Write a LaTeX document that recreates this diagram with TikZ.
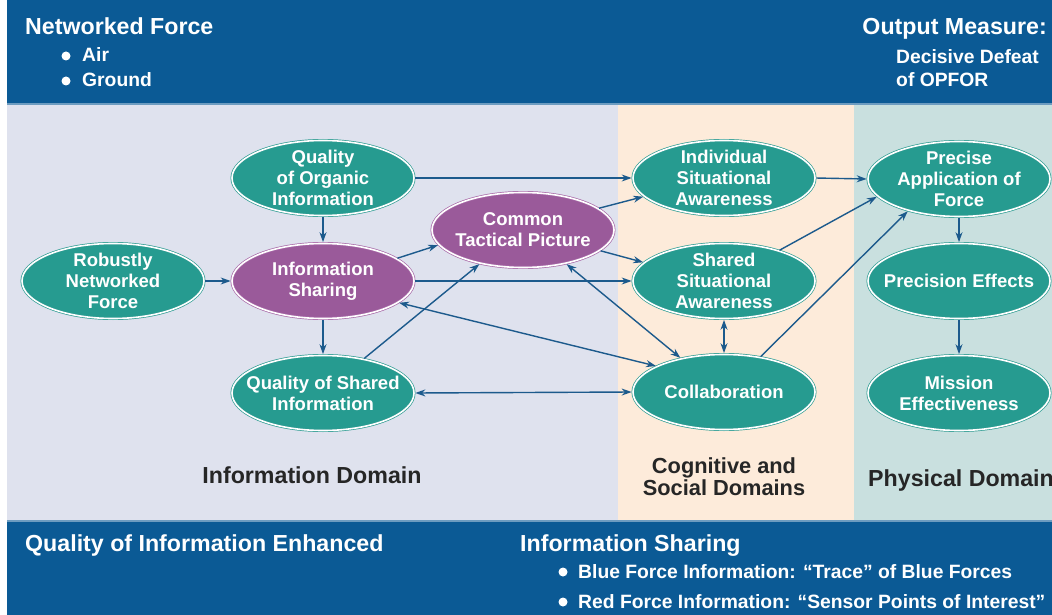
\documentclass[tikz,border=0pt]{standalone}
\usepackage{fontspec}
\setmainfont{Liberation Sans}
\usetikzlibrary{shapes.geometric,arrows.meta}
\definecolor{bandblue}{HTML}{0B5A95}
\definecolor{infobg}{HTML}{DFE2EE}
\definecolor{cogbg}{HTML}{FDEBDA}
\definecolor{physbg}{HTML}{C9E0DF}
\definecolor{tealfill}{HTML}{269B90}
\definecolor{tealedge}{HTML}{2E9C92}
\definecolor{purpfill}{HTML}{9A5A9A}
\definecolor{purpedge}{HTML}{A86AA8}
\definecolor{arrblue}{HTML}{1C5A8C}
\tikzset{
  nodetxt/.style={align=center, text=white, inner sep=0pt,
    font=\fontsize{18.5}{21}\selectfont\bfseries},
  ell/.style={ellipse, minimum width=182pt, minimum height=75pt, inner sep=0pt,
    line width=0.7pt, double=white, double distance=1.6pt,
    label={[nodetxt]center:{#1}}},
  tnode/.style={ell={#1}, fill=tealfill, draw=tealedge},
  pnode/.style={ell={#1}, fill=purpfill, draw=purpedge},
  arr/.style={draw=arrblue, line width=1.4pt, -{Stealth[length=10pt,width=7pt]}, shorten >=1pt, shorten <=1pt},
  darr/.style={draw=arrblue, line width=1.4pt, {Stealth[length=10pt,width=7pt]}-{Stealth[length=10pt,width=7pt]}, shorten >=1pt, shorten <=1pt},
  headtxt/.style={text=white, inner sep=0pt, font=\fontsize{23.2}{26}\selectfont\bfseries},
  subtxt/.style={text=white, inner sep=0pt, font=\fontsize{19.3}{23}\selectfont\bfseries},
  domtxt/.style={text=black!85, inner sep=0pt, align=center, font=\fontsize{23.2}{22}\selectfont\bfseries},
}
\begin{document}
\begin{tikzpicture}[x=1pt,y=-1pt]
\useasboundingbox (0,0) rectangle (1052,615);
\fill[white] (0,0) rectangle (1052,615);
% bands and domains
\fill[bandblue] (7,0) rectangle (1052,104);
\fill[infobg] (7,104) rectangle (618,521);
\fill[cogbg] (618,104) rectangle (854,521);
\fill[physbg] (854,104) rectangle (1052,521);
\fill[bandblue!60!white] (7,103) rectangle (1052,105.5);
\fill[bandblue] (7,521) rectangle (1052,615);
\fill[bandblue!60!white] (7,520) rectangle (1052,522);
% header texts
\node[headtxt, anchor=base west] (hnf) at (25,35) {Networked Force};
\node[subtxt, anchor=base west] (hair) at (82,62) {Air};
\node[subtxt, anchor=base west] (hgr) at (82,87) {Ground};
\fill[white] (66,56) circle (4.5);
\fill[white] (66,81) circle (4.5);
\node[headtxt, anchor=base east] (hom) at (1047,35) {Output Measure:};
\node[subtxt, anchor=base west] (hdd) at (896,64) {Decisive Defeat};
\node[subtxt, anchor=base west] (hop) at (896,87) {of OPFOR};
% footer texts
\node[headtxt, anchor=base west] (fq) at (25,551) {Quality of Information Enhanced};
\node[headtxt, anchor=base west] (fis) at (520,551) {Information Sharing};
\node[subtxt, anchor=base west] (fb) at (578,578) {Blue Force Information: ``Trace'' of Blue Forces};
\node[subtxt, anchor=base west] (fr) at (578,608) {Red Force Information: ``Sensor Points of Interest''};
\fill[white] (563,572) circle (4.5);
\fill[white] (563,602) circle (4.5);
% domain labels
\node[domtxt, anchor=base] (dinfo) at (312,483) {Information Domain};
\node[domtxt, font=\fontsize{21.8}{22}\selectfont\bfseries] (dcog) at (724,477) {Cognitive and\\Social Domains};
\node[domtxt, anchor=base west] (dphys) at (868,486) {Physical Domain};
% nodes
\node[tnode={Robustly\\Networked\\Force}] (rnf) at (113,281) {};
\node[tnode={Quality\\of Organic\\Information}] (qoi) at (323,178) {};
\node[pnode={Information\\Sharing}] (is) at (323,281) {};
\node[tnode={Quality of Shared\\Information}] (qsi) at (323,393) {};
\node[pnode={Common\\Tactical Picture}] (ctp) at (523,230) {};
\node[tnode={Individual\\Situational\\Awareness}] (isa) at (724,178) {};
\node[tnode={Shared\\Situational\\Awareness}] (ssa) at (724,281) {};
\node[tnode={Collaboration}] (col) at (724,392) {};
\node[tnode={Precise\\Application of\\Force}] (paf) at (959,179) {};
\node[tnode={Precision Effects}] (pe) at (959,281) {};
\node[tnode={Mission\\Effectiveness}] (me) at (959,393) {};
% connectors
\draw[arr] (rnf) -- (is);
\draw[arr] (qoi) -- (is);
\draw[arr] (is) -- (qsi);
\draw[arr] (qoi.east) -- (isa.west);
\draw[arr] (is.17) -- (ctp.190);
\draw[arr] (is.east) -- (ssa.west);
\draw[arr] (qsi.40) -- (ctp.218);
\draw[darr] (is.344) -- (col.159);
\draw[darr] (qsi.east) -- (col.west);
\draw[arr] (ctp.16) -- (isa.193);
\draw[arr] (ctp.345) -- (ssa.167);
\draw[darr] (ctp.322) -- (col.142);
\draw[darr] (ssa.south) -- (col.north);
\draw[arr] (isa.east) -- (paf.west);
\draw[arr] (ssa.29) -- (paf.192);
\draw[arr] (col.44) -- (paf.212);
\draw[arr] (paf) -- (pe);
\draw[arr] (pe) -- (me);
\end{tikzpicture}
\end{document}
